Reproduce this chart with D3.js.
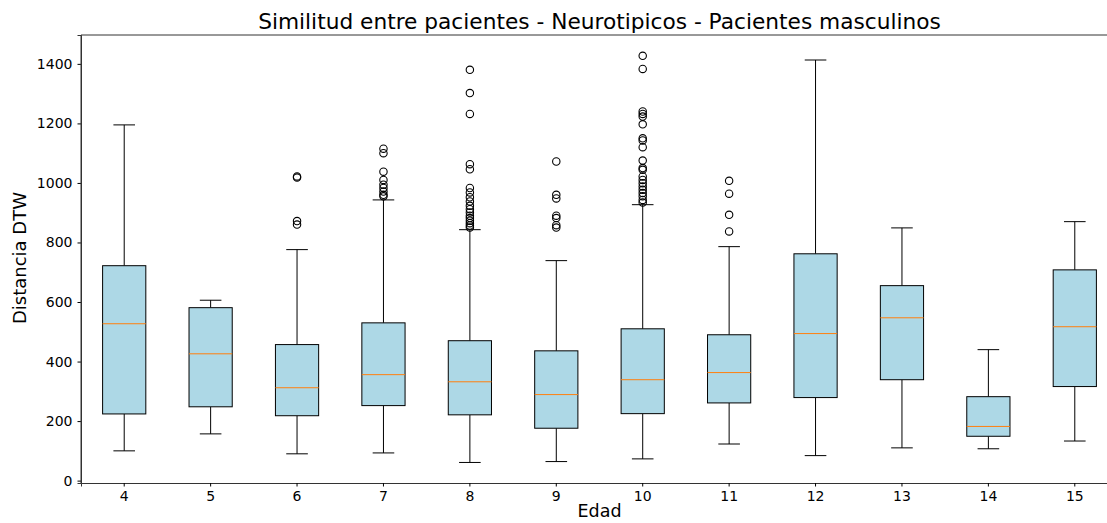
<!DOCTYPE html>
<html><head><meta charset="utf-8">
<script src="https://cdn.jsdelivr.net/npm/d3@7"></script>
<style>body{margin:0;background:#fff}svg{font-family:"DejaVu Sans",sans-serif}</style>
</head><body><svg id="c" width="1107" height="523"></svg>
<script>
const categories = ["4","5","6","7","8","9","10","11","12","13","14","15"];
const whiskerLow = [100,157,90,93,61,64,73,123,84,110,107,133];
const q1 = [224,248,218,252,221,176,225,261,279,339,149,316];
const median = [527,426,312,356,332,289,339,363,494,547,182,517];
const q3 = [722,581,457,530,470,436,510,490,762,655,282,708];
const whiskerHigh = [1195,606,776,943,843,739,927,786,1413,849,440,870];
const outliers = [
  [],
  [],
  [1018,1022,872,860],
  [1115,1100,1038,1010,994,983,971,960,955],
  [1380,1302,1232,1063,1046,983,968,952,938,923,912,901,890,882,873,865,857,850],
  [1072,960,948,890,882,858,850],
  [1427,1383,1240,1232,1223,1197,1150,1143,1120,1075,1050,1044,1022,1010,999,988,977,966,955,943,934],
  [1007,964,893,837],
  [],[],[],[]
];
const yTicks = [0,200,400,600,800,1000,1200,1400];

const svg = d3.select("#c");
const L=81, R=1118, T=35, B=483;
const x = d3.scaleBand().domain(categories).range([L,R]).paddingInner(0).paddingOuter(0);
const y = d3.scaleLinear().domain([-8,1497]).range([B,T]);
const bw = x.bandwidth()*0.5;
const cx = c => x(c)+x.bandwidth()/2;

const g = svg.append("g");
categories.forEach((c,i)=>{
  const xc = cx(c);
  const gg = g.append("g");
  gg.append("line").attr("x1",xc).attr("x2",xc).attr("y1",y(q3[i])).attr("y2",y(whiskerHigh[i])).attr("stroke","#000").attr("stroke-width",1);
  gg.append("line").attr("x1",xc).attr("x2",xc).attr("y1",y(q1[i])).attr("y2",y(whiskerLow[i])).attr("stroke","#000").attr("stroke-width",1);
  [whiskerHigh[i],whiskerLow[i]].forEach(v=>{
    gg.append("line").attr("x1",xc-bw/4).attr("x2",xc+bw/4).attr("y1",y(v)).attr("y2",y(v)).attr("stroke","#000").attr("stroke-width",1);
  });
  gg.append("rect").attr("x",xc-bw/2).attr("y",y(q3[i])).attr("width",bw).attr("height",y(q1[i])-y(q3[i]))
    .attr("fill","#add8e6").attr("stroke","#000").attr("stroke-width",1);
  gg.append("line").attr("x1",xc-bw/2).attr("x2",xc+bw/2).attr("y1",y(median[i])).attr("y2",y(median[i])).attr("stroke","#ff7f0e").attr("stroke-width",1);
  outliers[i].forEach(v=>{
    gg.append("circle").attr("cx",xc).attr("cy",y(v)).attr("r",3.7).attr("fill","none").attr("stroke","#000").attr("stroke-width",1.1);
  });
});

const xa = svg.append("g").attr("transform",`translate(0,${B})`)
  .call(d3.axisBottom(x).tickSizeOuter(0).tickSize(3.5).tickPadding(5));
const ya = svg.append("g").attr("transform",`translate(${L},0)`)
  .call(d3.axisLeft(y).tickValues(yTicks).tickFormat(d3.format("d")).tickSizeOuter(0).tickSize(3.5).tickPadding(5));
[xa,ya].forEach(a=>{
  a.selectAll("text").attr("font-size",14).attr("font-family","DejaVu Sans").attr("fill","#000");
  a.selectAll(".tick line").attr("stroke","#000");
  a.select(".domain").attr("stroke","#333");
});
svg.append("line").attr("x1",L).attr("x2",R).attr("y1",T).attr("y2",T).attr("stroke","#333");
svg.append("line").attr("x1",L).attr("x2",L).attr("y1",T).attr("y2",B).attr("stroke","#333");

svg.append("text").attr("x",(L+R)/2).attr("y",29).attr("text-anchor","middle").attr("font-size",21.7).text("Similitud entre pacientes - Neurotipicos - Pacientes masculinos");
svg.append("text").attr("x",(L+R)/2).attr("y",517).attr("text-anchor","middle").attr("font-size",17.5).text("Edad");
svg.append("text").attr("transform","translate(26,258) rotate(-90)").attr("text-anchor","middle").attr("font-size",18).text("Distancia DTW");
</script></body></html>
